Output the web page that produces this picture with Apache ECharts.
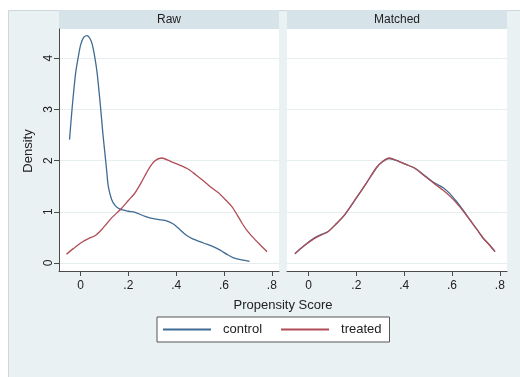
<!DOCTYPE html>
<html>
<head>
<meta charset="utf-8">
<script src="https://cdn.jsdelivr.net/npm/echarts@6/dist/echarts.min.js"></script>
<style>
  html, body { margin: 0; padding: 0; background: #fff; }
  #chart { width: 520px; height: 377px; }
</style>
</head>
<body>
<div id="chart"></div>
<script>
// Data: [propensity score, density]
const panelTitles = ['Raw', 'Matched'];
const xTicks = [0, 0.2, 0.4, 0.6, 0.8];
const yTicks = [0, 1, 2, 3, 4];

const rawControl = [
  [-0.046, 2.41], [-0.035, 3.03], [-0.021, 3.69], [-0.010, 4.01], [0.001, 4.27],
  [0.014, 4.41], [0.028, 4.44], [0.04, 4.38], [0.049, 4.27], [0.06, 4.01],
  [0.07, 3.69], [0.084, 3.03], [0.093, 2.55], [0.102, 2.14], [0.109, 1.82],
  [0.116, 1.50], [0.13, 1.24], [0.145, 1.12], [0.165, 1.05], [0.2, 1.01],
  [0.228, 0.99], [0.27, 0.91], [0.31, 0.86], [0.353, 0.83], [0.388, 0.76],
  [0.416, 0.65], [0.44, 0.55], [0.465, 0.48], [0.514, 0.39], [0.55, 0.33],
  [0.584, 0.25], [0.615, 0.16], [0.64, 0.10], [0.675, 0.06], [0.707, 0.03]
];
const rawTreated = [
  [-0.059, 0.17], [-0.03, 0.28], [0.004, 0.40], [0.035, 0.48], [0.06, 0.53],
  [0.088, 0.65], [0.11, 0.77], [0.13, 0.88], [0.172, 1.07], [0.2, 1.22],
  [0.228, 1.37], [0.255, 1.58], [0.283, 1.82], [0.31, 1.99], [0.34, 2.05],
  [0.374, 1.99], [0.41, 1.92], [0.451, 1.83], [0.48, 1.73], [0.507, 1.63],
  [0.54, 1.50], [0.577, 1.37], [0.605, 1.24], [0.633, 1.10], [0.655, 0.94],
  [0.675, 0.78], [0.695, 0.64], [0.717, 0.52], [0.75, 0.36], [0.78, 0.22]
];
const matchedControl = [
  [-0.057, 0.18], [-0.02, 0.33], [0.025, 0.49], [0.05, 0.55], [0.081, 0.61],
  [0.115, 0.76], [0.151, 0.94], [0.2, 1.27], [0.242, 1.56], [0.284, 1.86],
  [0.31, 1.98], [0.337, 2.04], [0.37, 2.0], [0.405, 1.93], [0.445, 1.85],
  [0.48, 1.73], [0.515, 1.60], [0.54, 1.53], [0.563, 1.47], [0.59, 1.36],
  [0.619, 1.20], [0.648, 1.02], [0.675, 0.84], [0.705, 0.65], [0.731, 0.48],
  [0.755, 0.36], [0.78, 0.22]
];
const matchedTreated = [
  [-0.057, 0.18], [-0.02, 0.33], [0.025, 0.48], [0.05, 0.54], [0.081, 0.61],
  [0.115, 0.76], [0.151, 0.94], [0.2, 1.27], [0.242, 1.56], [0.284, 1.86],
  [0.31, 1.98], [0.337, 2.05], [0.37, 2.0], [0.405, 1.93], [0.445, 1.85],
  [0.48, 1.72], [0.515, 1.59], [0.54, 1.50], [0.563, 1.42], [0.59, 1.31],
  [0.619, 1.17], [0.648, 1.01], [0.675, 0.84], [0.705, 0.65], [0.731, 0.48],
  [0.755, 0.36], [0.78, 0.22]
];

const FONT = 'Liberation Sans, Arial, sans-serif';
const BLUE = '#3f6b94';
const RED = '#b04c55';
const AXIS = '#4a4a4a';
const GRIDLINE = '#e6eef0';

const grids = [
  { left: 59, top: 29, width: 220, height: 242 },
  { left: 287, top: 29, width: 220, height: 242 }
];

const fmtX = (v) => (v === 0 ? '0' : String(v).replace(/^0\./, '.'));

const xAxes = grids.map((g, i) => ({
  type: 'value',
  gridIndex: i,
  min: -0.09,
  max: 0.83,
  axisLine: { show: true, onZero: false, lineStyle: { color: AXIS, width: 1 } },
  axisTick: { show: true, length: 5, customValues: xTicks, lineStyle: { color: AXIS } },
  axisLabel: {
    customValues: xTicks, margin: 9, formatter: fmtX,
    color: '#222', fontFamily: FONT, fontSize: 12
  },
  splitLine: { show: false }
}));

const yAxes = grids.map((g, i) => ({
  type: 'value',
  gridIndex: i,
  min: -0.157,
  max: 4.57,
  axisLine: { show: i === 0, onZero: false, lineStyle: { color: AXIS, width: 1 } },
  axisTick: { show: i === 0, length: 5, customValues: yTicks, lineStyle: { color: AXIS } },
  axisLabel: {
    show: i === 0, customValues: yTicks, rotate: 90, margin: 4,
    color: '#222', fontFamily: FONT, fontSize: 12
  },
  splitLine: { show: true, lineStyle: { color: GRIDLINE, width: 1 } }
}));

const mkSeries = (name, data, idx, color) => ({
  name,
  type: 'line',
  xAxisIndex: idx,
  yAxisIndex: idx,
  data,
  smooth: 0.25,
  showSymbol: false,
  silent: true,
  color,
  lineStyle: { color, width: 1.3 }
});

const headers = grids.map((g, i) => ({
  type: 'group',
  children: [
    { type: 'rect', shape: { x: g.left, y: 10, width: g.width, height: 19 }, style: { fill: '#d6e3e8' } },
    {
      type: 'text', x: g.left + g.width / 2, y: 20,
      style: { text: panelTitles[i], fill: '#222', font: '12px ' + FONT, align: 'center', verticalAlign: 'middle' }
    }
  ]
}));

const chart = echarts.init(document.getElementById('chart'), null, { renderer: 'canvas' });
chart.setOption({
  animation: false,
  backgroundColor: '#fff',
  grid: grids.map((g) => ({ ...g, show: true, backgroundColor: '#fff', borderWidth: 0 })),
  xAxis: xAxes,
  yAxis: yAxes,
  legend: {
    left: 157,
    top: 317,
    orient: 'horizontal',
    data: ['control', 'treated'],
    icon: 'path://M0,0 L48,0 L48,2 L0,2 Z',
    itemWidth: 48,
    itemHeight: 2,
    itemGap: 19,
    padding: [6, 8, 6, 6],
    backgroundColor: '#fff',
    borderColor: '#555',
    borderWidth: 1,
    borderRadius: 0,
    selectedMode: false,
    textStyle: { color: '#222', fontFamily: FONT, fontSize: 13, padding: [0, 0, 0, 7] }
  },
  graphic: [
    {
      type: 'rect', z: -10, silent: true,
      shape: { x: 8.5, y: 10.5, width: 520, height: 380 },
      style: { fill: '#eaf1f3', stroke: '#cdd7db', lineWidth: 1 }
    },
    ...headers,
    {
      type: 'text', x: 28, y: 151, rotation: Math.PI / 2,
      style: { text: 'Density', fill: '#222', font: '13px ' + FONT, align: 'center', verticalAlign: 'middle' }
    },
    {
      type: 'text', x: 283, y: 305,
      style: { text: 'Propensity Score', fill: '#222', font: '13px ' + FONT, align: 'center', verticalAlign: 'middle' }
    }
  ],
  series: [
    mkSeries('control', rawControl, 0, BLUE),
    mkSeries('treated', rawTreated, 0, RED),
    mkSeries('control', matchedControl, 1, BLUE),
    mkSeries('treated', matchedTreated, 1, RED)
  ]
});
</script>
</body>
</html>
